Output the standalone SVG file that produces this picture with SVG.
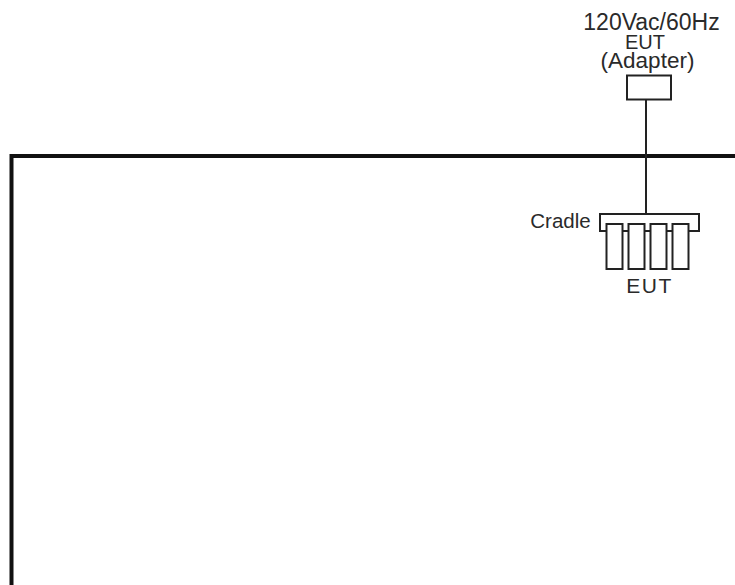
<svg xmlns="http://www.w3.org/2000/svg" width="735" height="585" viewBox="0 0 735 585">
<style>
.t{font-family:"Liberation Sans",Arial,sans-serif;fill:#2a2a2a;text-anchor:middle}
.b{fill:#fff;stroke:#222;stroke-width:2}
.w{fill:none;stroke:#222;stroke-width:2}
</style>
<rect width="735" height="585" fill="#fff"/>
<g id="room"><path d="M735 156H11.500V585" fill="none" stroke="#111" stroke-width="4"/></g>
<g id="connectors"><path class="w" d="M646 100V214"/></g>
<g id="source"><text class="t" x="651.500" y="30" font-size="23">120Vac/60Hz</text></g>
<g id="adapter">
<text class="t" x="645" y="48.500" font-size="20">EUT</text>
<text class="t" x="647.500" y="68" font-size="22.500">(Adapter)</text>
<rect class="b" x="627" y="75.500" width="44" height="24"/>
</g>
<g id="cradle">
<text class="t" x="560.500" y="227.500" font-size="20.500">Cradle</text>
<rect class="b" x="600" y="214" width="99" height="17"/>
</g>
<g id="eut">
<rect class="b" x="606.500" y="224" width="16" height="45"/>
<rect class="b" x="628.500" y="224" width="16" height="45"/>
<rect class="b" x="650.500" y="224" width="16" height="45"/>
<rect class="b" x="672.500" y="224" width="16" height="45"/>
<text class="t" x="649.500" y="293" font-size="21" letter-spacing="1.500">EUT</text>
</g>
</svg>
